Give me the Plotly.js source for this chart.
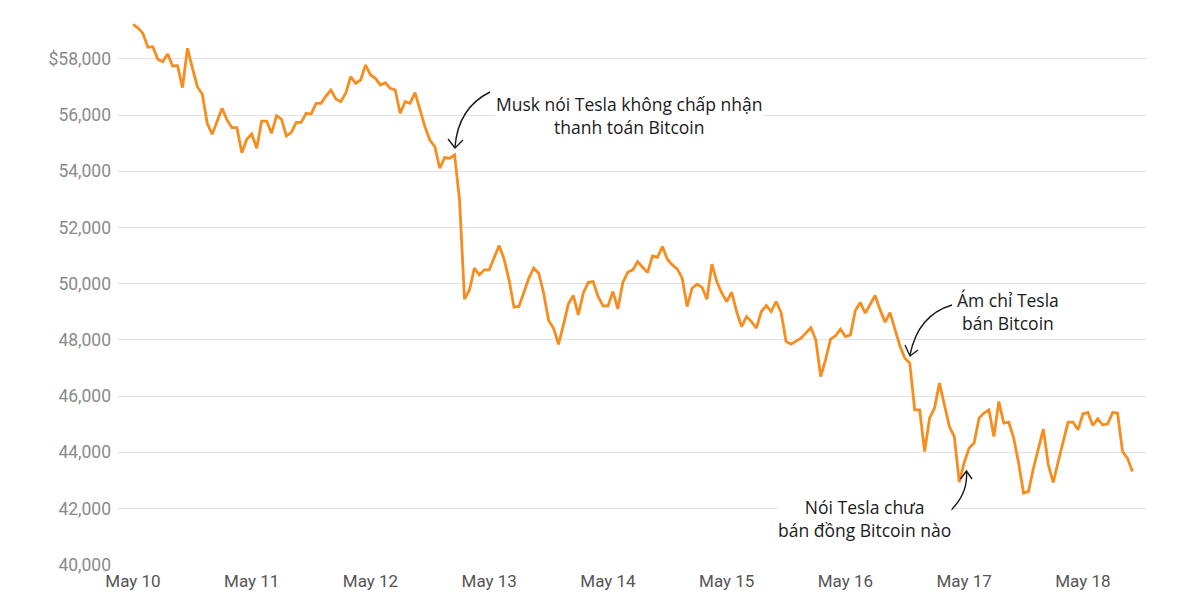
<!DOCTYPE html>
<html>
<head>
<meta charset="utf-8">
<script src="https://cdn.plot.ly/plotly-3.0.1.min.js"></script>
<style>
html,body{margin:0;padding:0;background:#fff;}
#chart{width:1200px;height:610px;}
</style>
</head>
<body>
<div id="chart"></div>
<script>
// Hourly BTC price, starting May 10 2021 00:00
const startTime = '2021-05-10T00:00:00';
const prices = [
59230,59110,58910,58415,58435,57990,57900,58175,57750,57760,
56980,58380,57680,57010,56750,55710,55320,55790,56245,55830,
55555,55555,54665,55140,55330,54820,55790,55790,55355,55980,
55860,55260,55390,55745,55745,56065,56040,56420,56420,56680,
56895,56575,56480,56780,57370,57135,57250,57785,57430,57310,
57075,57155,56955,56895,56065,56480,56420,56800,56185,55590,
55115,54880,54110,54490,54465,54585,52980,49450,49780,50555,
50315,50495,50495,50910,51360,50885,50140,49165,49190,49685,
50200,50555,50375,49665,48690,48420,47840,48537,49284,49580,
48893,49665,50042,50077,49545,49213,49213,49722,49106,50042,
50411,50493,50790,50588,50399,50991,50944,51322,50873,50671,
50529,50198,49189,49842,49984,49878,49450,50696,50077,49665,
49368,49700,49011,48477,48832,48654,48418,49011,49224,49011,
49368,48975,47943,47850,47943,48064,48242,48441,48003,46698,
47317,48028,48146,48384,48121,48181,49046,49330,48953,49284,
49580,49070,48633,48975,48359,47790,47352,47174,45513,45513,
44030,45218,45574,46463,45691,44919,44563,42942,43639,44151,
44329,45218,45396,45513,44563,45810,45040,45076,44505,43617,
42550,42608,43440,44151,44827,43557,42928,43675,44386,45076,
45076,44802,45371,45418,44955,45193,44980,45005,45418,45396,
44030,43795,43319
];
const xTickVals = ['2021-05-10','2021-05-11','2021-05-12','2021-05-13','2021-05-14','2021-05-15','2021-05-16','2021-05-17','2021-05-18'];
const xTickText = ['May 10','May 11','May 12','May 13','May 14','May 15','May 16','May 17','May 18'];
const yTickVals = [40000,42000,44000,46000,48000,50000,52000,54000,56000,58000];
const yTickText = ['40,000','42,000','44,000','46,000','48,000','50,000','52,000','54,000','56,000','$58,000'];
const notes = [
  'Musk nói Tesla không chấp nhận<br>thanh toán Bitcoin',
  'Ám chỉ Tesla<br>bán Bitcoin',
  'Nói Tesla chưa<br>bán đồng Bitcoin nào'
];

// hourly timestamps
const t0 = new Date(startTime + 'Z').getTime();
const times = prices.map((_, i) => {
  const d = new Date(t0 + i * 3600000);
  return d.toISOString().slice(0, 19).replace('T', ' ');
});

// layout geometry (pixels)
const W = 1200, H = 610;
const M = {l: 118, r: 53, t: 14, b: 45};
const PW = W - M.l - M.r, PH = H - M.t - M.b;
const px = x => (x - M.l) / PW;
const py = y => (H - M.b - y) / PH;

function curve(p0, c, p1) {
  return `M${px(p0[0])},${py(p0[1])} Q${px(c[0])},${py(c[1])} ${px(p1[0])},${py(p1[1])}`;
}
function head(w1, tip, w2) {
  return `M${px(w1[0])},${py(w1[1])} L${px(tip[0])},${py(tip[1])} L${px(w2[0])},${py(w2[1])}`;
}
const arrowLine = {color: '#1a1a1a', width: 1.4};
const shapes = [
  {type: 'path', xref: 'paper', yref: 'paper', path: curve([490, 92], [458, 108], [455, 147]), line: arrowLine},
  {type: 'path', xref: 'paper', yref: 'paper', path: head([448, 139], [455, 148], [463, 140]), line: arrowLine},
  {type: 'path', xref: 'paper', yref: 'paper', path: curve([952, 305], [918, 315], [910, 355]), line: arrowLine},
  {type: 'path', xref: 'paper', yref: 'paper', path: head([905, 345], [910, 356], [918, 350]), line: arrowLine},
  {type: 'path', xref: 'paper', yref: 'paper', path: curve([948, 513], [968, 495], [966.5, 472]), line: arrowLine},
  {type: 'path', xref: 'paper', yref: 'paper', path: head([960.5, 479], [966.5, 471], [972, 479]), line: arrowLine}
];
const annFont = {family: '"Open Sans", "Noto Sans", sans-serif', size: 17.5, color: '#1a1a1a'};
const annotations = [
  {text: notes[0], x: px(629), y: py(116)},
  {text: notes[1], x: px(1008), y: py(312)},
  {text: notes[2], x: px(864), y: py(518)}
].map(a => Object.assign(a, {xref: 'paper', yref: 'paper', showarrow: false, xanchor: 'center', yanchor: 'middle', align: 'center', font: annFont, bgcolor: '#ffffff', borderpad: 0}));

const trace = {
  x: times, y: prices, type: 'scatter', mode: 'lines',
  line: {color: '#f68d1e', width: 2.8},
  hoverinfo: 'x+y'
};

const layout = {
  width: W, height: H,
  margin: M,
  paper_bgcolor: '#ffffff', plot_bgcolor: '#ffffff',
  showlegend: false,
  xaxis: {
    type: 'date',
    range: ['2021-05-09 20:58', '2021-05-18 12:57'],
    tickvals: xTickVals, ticktext: xTickText,
    showgrid: false, zeroline: false, showline: false,
    ticks: '', ticklabelstandoff: 4,
    tickfont: {family: 'Roboto, sans-serif', size: 17, color: '#555555'}
  },
  yaxis: {
    range: [39990, 59600],
    tickvals: yTickVals, ticktext: yTickText,
    showgrid: true, gridcolor: '#e3e3e3', gridwidth: 1,
    zeroline: false, showline: false, ticks: '',
    ticklabelstandoff: 6,
    tickfont: {family: 'Roboto, sans-serif', size: 17.5, color: '#8a8a8a'}
  },
  shapes: shapes,
  annotations: annotations
};

Plotly.newPlot('chart', [trace], layout, {displayModeBar: false, staticPlot: true});
</script>
</body>
</html>
